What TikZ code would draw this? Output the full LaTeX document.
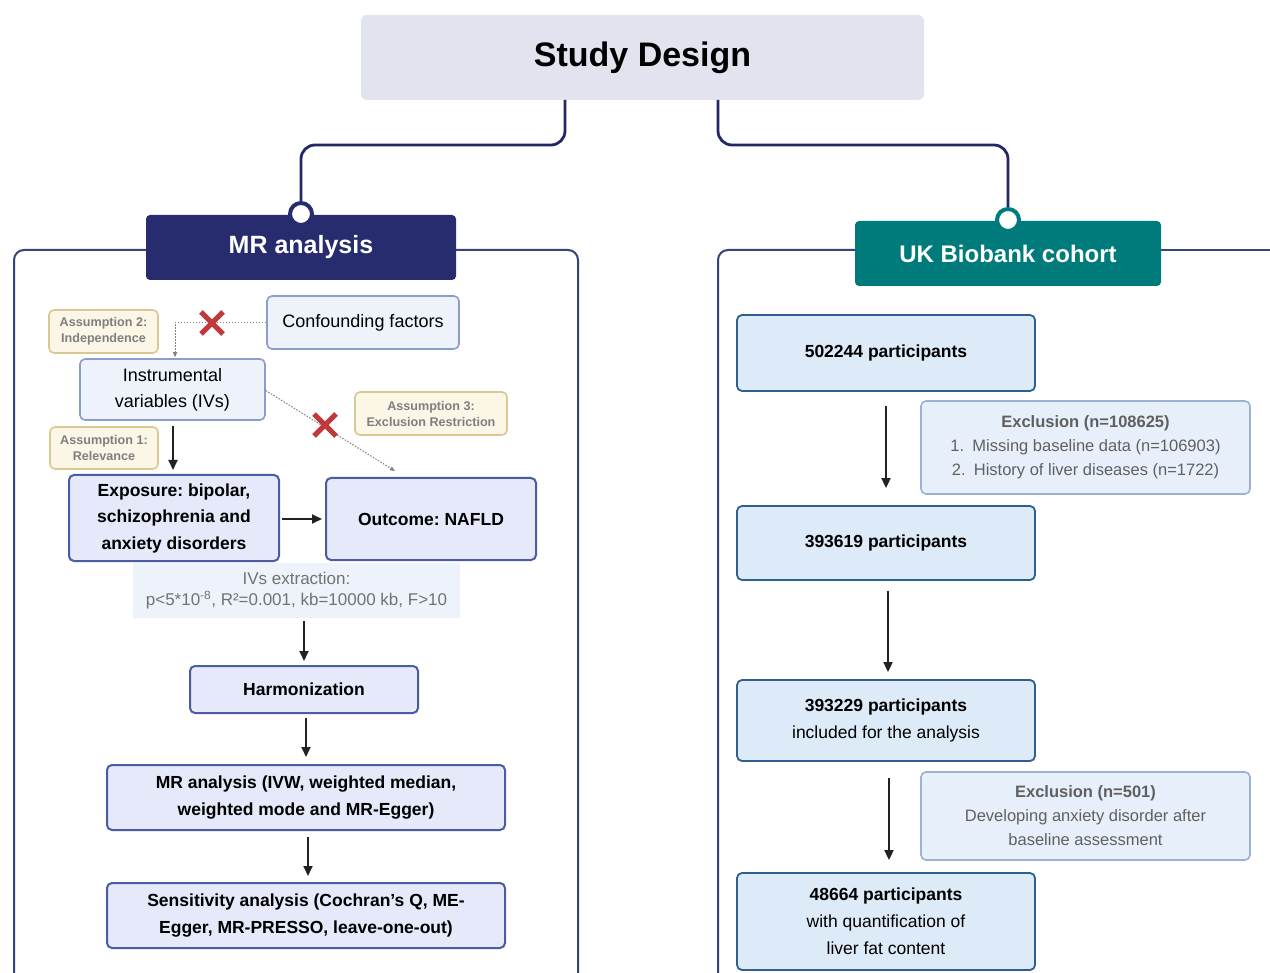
\documentclass[tikz,border=0pt]{standalone}
\usepackage{fontspec}
\setmainfont{Liberation Sans}
\usetikzlibrary{arrows.meta,calc}
\frenchspacing
\definecolor{navy}{HTML}{262C6E}
\definecolor{teal2}{HTML}{007B7B}
\definecolor{titlefill}{HTML}{E1E3EF}
\definecolor{frame}{HTML}{34457E}
\definecolor{connc}{HTML}{242766}
\definecolor{mfill}{HTML}{E5E9FA}
\definecolor{mdraw}{HTML}{4B5CA0}
\definecolor{lfill}{HTML}{EEF2FB}
\definecolor{ldraw}{HTML}{8C9CCB}
\definecolor{afill}{HTML}{FBF6E6}
\definecolor{adraw}{HTML}{D9C894}
\definecolor{atext}{HTML}{7F7F7F}
\definecolor{rfill}{HTML}{DDEAF8}
\definecolor{rdraw}{HTML}{2F5F8F}
\definecolor{efill}{HTML}{E7EFFA}
\definecolor{edraw}{HTML}{9AB3D3}
\definecolor{etext}{HTML}{606060}
\definecolor{xred}{HTML}{C0393B}
\definecolor{arrowc}{HTML}{222222}
\tikzset{
  bx/.style={rectangle, rounded corners=5pt, inner sep=0pt, align=center},
  mainbox/.style={bx, fill=mfill, draw=mdraw, line width=2pt, font=\bfseries\fontsize{17.5}{26.5}\selectfont},
  lightbox/.style={bx, fill=lfill, draw=ldraw, line width=1.6pt, font=\fontsize{18}{26}\selectfont},
  assum/.style={bx, fill=afill, draw=adraw, line width=1.6pt, text=atext, font=\bfseries\fontsize{12.6}{16}\selectfont},
  rbox/.style={bx, fill=rfill, draw=rdraw, line width=1.8pt, font=\fontsize{17.5}{27}\selectfont},
  exbox/.style={bx, fill=efill, draw=edraw, line width=1.6pt, text=etext, font=\fontsize{16.5}{24}\selectfont},
  header/.style={rectangle, rounded corners=4pt, inner sep=0pt, text=white, font=\bfseries\fontsize{25}{30}\selectfont},
  conn/.style={draw=connc, line width=2.8pt, rounded corners=14pt},
  panel/.style={draw=frame, line width=2pt, rounded corners=10pt},
  arr/.style={draw=arrowc, line width=1.8pt, -{Triangle[length=10pt,width=9pt]}},
  dotl/.style={draw=gray, line width=1pt, dash pattern=on 1.5pt off 1.5pt, -{Triangle[length=5pt,width=4pt]}},
  xmark/.style={draw=xred, line width=5pt},
}
\begin{document}
\begin{tikzpicture}[x=1pt,y=-1pt]
\useasboundingbox (0,0) rectangle (1270,973);
\clip (0,0) rectangle (1270,973);
\fill[white] (0,0) rectangle (1270,973);

% panels
\draw[panel] (150,250) -- (14,250) -- (14,1000);
\draw[panel] (450,250) -- (578,250) -- (578,1000);
\draw[panel] (860,250) -- (718,250) -- (718,1000);
\draw[panel] (1155,250) -- (1300,250);

% title
\node[rectangle, rounded corners=6pt, fill=titlefill, minimum width=563pt, minimum height=85pt, font=\bfseries\fontsize{34}{38}\selectfont] (title) at (642.5,57.5) {Study Design};

% headers
\node[header, fill=navy, minimum width=310pt, minimum height=65pt] (mrh) at (301,247.5) {MR analysis};
\node[header, fill=teal2, minimum width=306pt, minimum height=65pt, font=\bfseries\fontsize{24}{30}\selectfont] (ukh) at (1008,253.5) {UK Biobank cohort};
\node[circle, fill=white, draw=navy, line width=4pt, minimum size=22pt, inner sep=0pt] (lc) at (301,214) {};
\node[circle, fill=white, draw=teal2, line width=4pt, minimum size=22pt, inner sep=0pt] (rc) at (1008,220) {};

% connectors
\coordinate (tl) at (565,100);
\coordinate (tr) at (718,100);
\draw[conn] (tl) -- (565,145) -- (301,145) -- (lc.north);
\draw[conn] (tr) -- (718,145) -- (1008,145) -- (rc.north);

% left content
\node[assum, minimum width=109pt, minimum height=43pt] (a2) at (103.5,331.5) {Assumption 2:\\Independence};
\node[lightbox, minimum width=192pt, minimum height=53pt] (cf) at (363,322.5) {Confounding factors};
\node[lightbox, minimum width=185pt, minimum height=61pt] (iv) at (172.5,389.5) {Instrumental\\variables (IVs)};
\node[assum, minimum width=152pt, minimum height=43pt] (a3) at (431,413.5) {Assumption 3:\\Exclusion Restriction};
\node[assum, minimum width=108pt, minimum height=42pt] (a1) at (104,448) {Assumption 1:\\Relevance};
\node[mainbox, minimum width=210pt, minimum height=86pt] (exp) at (174,518) {Exposure: bipolar,\\schizophrenia and\\anxiety disorders};
\node[mainbox, minimum width=210pt, minimum height=82pt] (out) at (431,519) {Outcome: NAFLD};
\node[rectangle, fill=lfill, inner sep=0pt, minimum width=327pt, minimum height=55pt, align=center, text=atext!90!black, font=\fontsize{17}{21}\selectfont] (ivx) at (296.5,590.5) {IVs extraction:\\p<5*10\textsuperscript{-8}, R²=0.001, kb=10000 kb, F>10};
\node[mainbox, minimum width=228pt, minimum height=47pt] (har) at (304,689.5) {Harmonization};
\node[mainbox, minimum width=398pt, minimum height=65pt, font=\bfseries\fontsize{17.5}{27}\selectfont] (mra) at (306,797.5) {MR analysis (IVW, weighted median,\\weighted mode and MR-Egger)};
\node[mainbox, minimum width=398pt, minimum height=65pt, font=\bfseries\fontsize{17.5}{27}\selectfont] (sen) at (306,915.5) {Sensitivity analysis (Cochran’s Q, ME-\\Egger, MR-PRESSO, leave-one-out)};

% left connectors
\draw[dotl] (cf.west) -| ($(iv.north)+(2.5,-1)$);
\coordinate (oa) at (395,471);
\draw[dotl] ($(iv.east)+(0,1)$) -- (oa);
\draw[xmark] (201,312) -- (223,334) (223,312) -- (201,334);
\draw[xmark] (314,414) -- (336,436) (336,414) -- (314,436);
\draw[arr] ($(iv.south)+(0.5,5)$) -- ($(iv.south |- exp.north)+(0.5,-4)$);
\draw[arr] ($(exp.east)+(2,1)$) -- ($(out.west)+(-3,0)$);
\draw[arr] ($(ivx.south)+(7.5,3)$) -- ($(har.north)+(0,-4)$);
\draw[arr] ($(har.south)+(2,4)$) -- ($(har.south |- mra.north)+(2,-7)$);
\draw[arr] ($(mra.south)+(2,6)$) -- ($(mra.south |- sen.north)+(2,-6)$);

% right content
\node[rbox, minimum width=298pt, minimum height=76pt] (p1) at (886,353) {\textbf{502244 participants}};
\node[exbox, minimum width=329pt, minimum height=93pt] (ex1) at (1085.5,447.5) {\textbf{Exclusion (n=108625)}\\1.\enspace Missing baseline data (n=106903)\\2.\enspace History of liver diseases (n=1722)};
\node[rbox, minimum width=298pt, minimum height=74pt] (p2) at (886,543) {\textbf{393619 participants}};
\node[rbox, minimum width=298pt, minimum height=81pt] (p3) at (886,720.5) {\textbf{393229 participants}\\included for the analysis};
\node[exbox, minimum width=329pt, minimum height=88pt] (ex2) at (1085.5,816) {\textbf{Exclusion (n=501)}\\Developing anxiety disorder after\\baseline assessment};
\node[rbox, minimum width=298pt, minimum height=97pt] (p4) at (886,921.5) {\textbf{48664 participants}\\with quantification of\\liver fat content};

\draw[arr] ($(p1.south)+(0,14)$) -- ($(p2.north)+(0,-17)$);
\draw[arr] ($(p2.south)+(2,10)$) -- ($(p3.north)+(2,-7)$);
\draw[arr] ($(p3.south)+(3,16)$) -- ($(p4.north)+(3,-12)$);
\end{tikzpicture}
\end{document}
